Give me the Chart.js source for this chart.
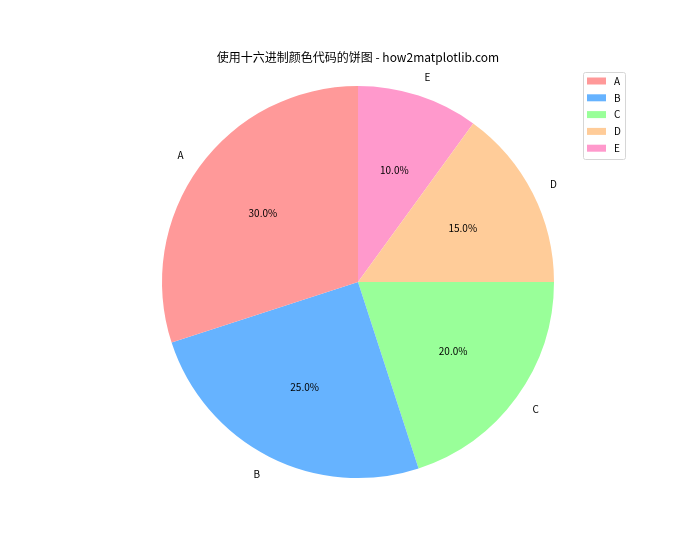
<!DOCTYPE html>
<html><head><meta charset="utf-8">
<script src="https://cdn.jsdelivr.net/npm/chart.js@4"></script>
<style>html,body{margin:0;padding:0;background:#fff;}#wrap{width:700px;height:560px;position:relative;}</style>
</head><body><div id="wrap"><canvas id="c" width="700" height="560"></canvas></div>
<script>
const titleText = '使用十六进制颜色代码的饼图 - how2matplotlib.com';
const categories = ['A', 'B', 'C', 'D', 'E'];
const values = [30, 25, 20, 15, 10];
const colors = ['#ff9999', '#66b3ff', '#99ff99', '#ffcc99', '#ff99cc'];

// matplotlib draws counter-clockwise from the top; Chart.js draws clockwise, so feed reversed order
const order = categories.map((_, i) => categories.length - 1 - i);
const FONT = '"Noto Sans CJK SC", "DejaVu Sans", sans-serif';

const overlay = {
  id: 'overlay',
  afterDraw(chart) {
    const ctx = chart.ctx;
    const meta = chart.getDatasetMeta(0);
    const total = values.reduce((a, b) => a + b, 0);
    ctx.save();
    ctx.fillStyle = '#000';
    ctx.textBaseline = 'middle';
    meta.data.forEach((arc, j) => {
      const i = order[j];
      const mid = (arc.startAngle + arc.endAngle) / 2;
      const r = arc.outerRadius;
      ctx.font = '10px ' + FONT;
      const cx = Math.cos(mid);
      ctx.textAlign = cx > 0 ? 'left' : 'right';
      ctx.fillText(categories[i], arc.x + cx * r * 1.1, arc.y + Math.sin(mid) * r * 1.1);
      ctx.textAlign = 'center';
      ctx.fillText((values[i] / total * 100).toFixed(1) + '%', arc.x + cx * r * 0.6, arc.y + Math.sin(mid) * r * 0.6);
    });
    // title
    ctx.textAlign = 'center';
    ctx.font = '12px ' + FONT;
    ctx.fillText(titleText, 358, 57);
    // legend
    const lx = 583, ly = 72, lw = 42, lh = 87;
    ctx.beginPath();
    if (ctx.roundRect) ctx.roundRect(lx + 0.5, ly + 0.5, lw, lh, 2); else ctx.rect(lx + 0.5, ly + 0.5, lw, lh);
    ctx.fillStyle = 'rgba(255,255,255,0.8)';
    ctx.fill();
    ctx.strokeStyle = '#d6d6d6';
    ctx.lineWidth = 1;
    ctx.stroke();
    ctx.textAlign = 'left';
    categories.forEach((c, i) => {
      const y = 81 + i * 16.8;
      ctx.fillStyle = colors[i];
      ctx.fillRect(587, y - 3.5, 19, 7);
      ctx.fillStyle = '#000';
      ctx.font = '10px ' + FONT;
      ctx.fillText(c, 614, y);
    });
    ctx.restore();
  }
};

new Chart(document.getElementById('c'), {
  type: 'pie',
  data: {
    labels: order.map(i => categories[i]),
    datasets: [{
      data: order.map(i => values[i]),
      backgroundColor: order.map(i => colors[i]),
      borderWidth: 0
    }]
  },
  options: {
    responsive: false,
    animation: false,
    layout: { padding: { top: 86, bottom: 82, left: 162, right: 146 } },
    plugins: { legend: { display: false }, title: { display: false }, tooltip: { enabled: false } }
  },
  plugins: [overlay]
});
</script>
</body></html>
